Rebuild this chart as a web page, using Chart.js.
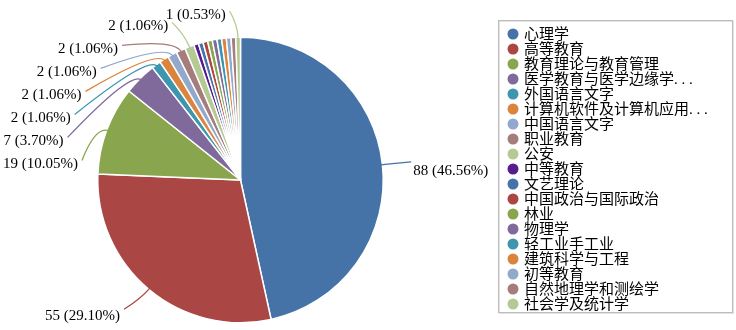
<!DOCTYPE html>
<html>
<head>
<meta charset="utf-8">
<script src="https://cdn.jsdelivr.net/npm/chart.js@4/dist/chart.umd.min.js"></script>
<style>
  html, body { margin: 0; padding: 0; background: #fff; }
  #wrap { width: 736px; height: 330px; position: relative; }
</style>
</head>
<body>
<div id="wrap"><canvas id="graphique-pie"></canvas></div>
<script>
/** Données du graphique */
const categories = ['心理学', '高等教育', '教育理论与教育管理', '医学教育与医学边缘学. . .', '外国语言文字',
  '计算机软件及计算机应用. . .', '中国语言文字', '职业教育', '公安', '中等教育', '文艺理论',
  '中国政治与国际政治', '林业', '物理学', '轻工业手工业', '建筑科学与工程', '初等教育',
  '自然地理学和测绘学', '社会学及统计学'];
const counts = [88, 55, 19, 7, 2, 2, 2, 2, 2, 1, 1, 1, 1, 1, 1, 1, 1, 1, 1];
/** index des parts qui portent une étiquette */
const labelled = [0, 1, 2, 3, 4, 5, 6, 7, 8, 18];

const palette = ['#4572A7', '#AA4643', '#89A54E', '#80699B', '#3D96AE', '#DB843D', '#92A8CD', '#A47D7C', '#B5CA92', '#561B8D'];
const colors = counts.map((v, i) => palette[i % palette.length]);
const total = counts.reduce((a, b) => a + b, 0);
const labelFont = '15px "Liberation Serif", "Noto Sans CJK SC", serif';

/** Étiquettes avec lignes de rappel */
const leaderLabels = {
  id: 'leaderLabels',
  afterDatasetsDraw(chart) {
    const ctx = chart.ctx;
    const meta = chart.getDatasetMeta(0);
    ctx.save();
    ctx.font = labelFont;
    const items = labelled.map(i => {
      const arc = meta.data[i];
      const p = arc.getProps(['x', 'y', 'startAngle', 'endAngle', 'outerRadius'], true);
      const a = (p.startAngle + p.endAngle) / 2;
      const txt = counts[i] + ' (' + (counts[i] / total * 100).toFixed(2) + '%)';
      return {
        i, a, p, txt, w: ctx.measureText(txt).width,
        left: Math.cos(a) < 0,
        y: p.y + Math.sin(a) * (p.outerRadius + 26),
        rayX: p.x + Math.cos(a) * (p.outerRadius + 26)
      };
    });

    // côté gauche : on empile de haut en bas
    const R = 182;
    const lefts = items.filter(it => it.left).sort((u, v) => u.y - v.y);
    let prev = null;
    lefts.forEach(it => {
      it.xr = it.rayX - 12;
      if (prev) {
        const overlapX = it.xr > prev.xr - prev.w + 6;
        if (overlapX && it.y < prev.y + 23) {
          it.y = prev.y + 23;
          const dy = it.y - it.p.y;
          const dx = Math.sqrt(Math.max(R * R - dy * dy, 0));
          it.xr = Math.max(it.p.x - dx, it.w + 3);
        }
      }
      it.ty = it.y + 4 + 4 * Math.max(Math.sin(it.a), 0);
      prev = it;
    });
    items.filter(it => !it.left).forEach(it => { it.xl = it.rayX + 5; it.ty = it.y + 9; });

    items.forEach(it => {
      const {p, a} = it;
      const x0 = p.x + Math.cos(a) * (p.outerRadius - 2);
      const y0 = p.y + Math.sin(a) * (p.outerRadius - 2);
      const x1 = p.x + Math.cos(a) * (p.outerRadius + 12);
      const y1 = p.y + Math.sin(a) * (p.outerRadius + 12);
      const xe = it.left ? it.xr + 4 : it.xl - 2;
      ctx.beginPath();
      ctx.strokeStyle = colors[it.i];
      ctx.lineWidth = 1.3;
      ctx.moveTo(x0, y0);
      ctx.quadraticCurveTo(x1, y1, xe, it.y);
      ctx.stroke();

      ctx.fillStyle = '#000';
      ctx.textBaseline = 'middle';
      ctx.textAlign = it.left ? 'right' : 'left';
      ctx.fillText(it.txt, it.left ? it.xr : it.xl, it.ty);
    });
    ctx.restore();
  }
};

/** Légende encadrée à droite */
const boxLegend = {
  id: 'boxLegend',
  afterDraw(chart) {
    const ctx = chart.ctx;
    ctx.save();
    ctx.strokeStyle = '#e2e2e2';
    ctx.lineWidth = 1;
    ctx.strokeRect(499.5, 21.5, 234, 292);
    ctx.strokeStyle = '#bdbdbd';
    ctx.strokeRect(498.5, 20.5, 234, 292);
    ctx.font = labelFont;
    ctx.textBaseline = 'middle';
    ctx.textAlign = 'left';
    categories.forEach((c, i) => {
      const y = 34 + i * 15;
      ctx.beginPath();
      ctx.fillStyle = colors[i];
      ctx.arc(513, y, 5.5, 0, Math.PI * 2);
      ctx.fill();
      ctx.fillStyle = '#000';
      ctx.fillText(c, 524, y + 1);
    });
    ctx.restore();
  }
};

const ctx = document.getElementById('graphique-pie').getContext('2d');
new Chart(ctx, {
  type: 'pie',
  data: {
    labels: categories,
    datasets: [{
      data: counts,
      backgroundColor: colors,
      borderColor: '#ffffff',
      borderWidth: 1.5
    }]
  },
  options: {
    responsive: true,
    maintainAspectRatio: false,
    animation: false,
    layout: { padding: { left: 97, right: 352, top: 36, bottom: 6 } },
    plugins: {
      legend: { display: false },
      tooltip: { enabled: false }
    }
  },
  plugins: [leaderLabels, boxLegend]
});
</script>
</body>
</html>
